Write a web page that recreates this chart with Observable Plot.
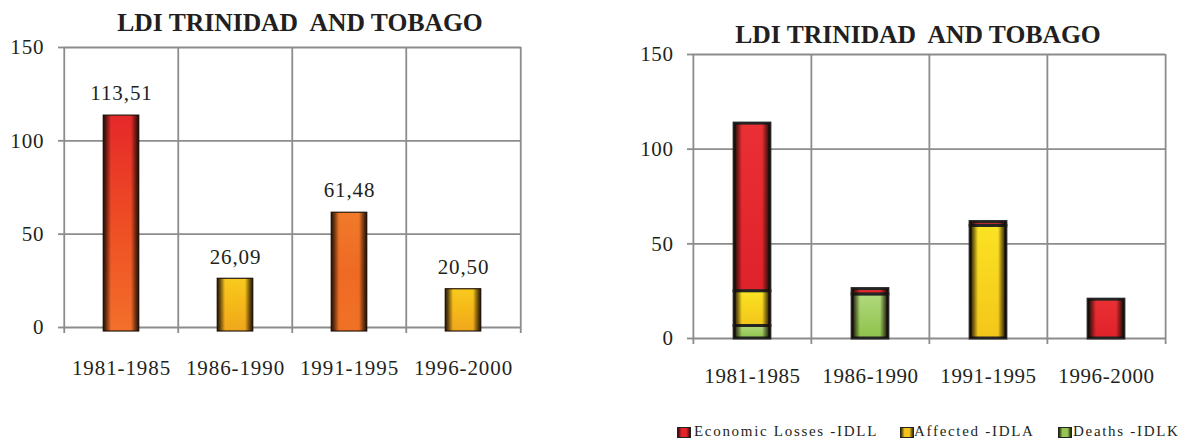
<!DOCTYPE html>
<html><head><meta charset="utf-8">
<script src="https://cdn.jsdelivr.net/npm/d3@7"></script>
<script src="https://cdn.jsdelivr.net/npm/@observablehq/plot@0.6"></script>
<style>
body{margin:0;background:#fff;}
#wrap{position:relative;width:1190px;height:442px;overflow:hidden;background:#fff;font-family:"Liberation Serif","Times New Roman",serif;color:#231f20;}
.title{position:absolute;width:600px;text-align:center;font-weight:bold;font-size:25.6px;line-height:25.6px;white-space:pre;color:#231f20;}
.chart{position:absolute;top:0;}
.leg{position:absolute;top:424px;font-size:15px;line-height:15px;letter-spacing:1.7px;white-space:nowrap;color:#231f20;}
.sw{position:absolute;top:3px;width:12px;height:9px;border:1px solid #222;}
</style>
</head><body>
<div id="wrap">
<svg width="0" height="0" style="position:absolute">
<defs>
<linearGradient id="gRedOrange" x1="0" y1="0" x2="0" y2="1"><stop offset="0" stop-color="#e5282a"/><stop offset="0.5" stop-color="#ee4d24"/><stop offset="1" stop-color="#f3702a"/></linearGradient>
<linearGradient id="gOrange" x1="0" y1="0" x2="0" y2="1"><stop offset="0" stop-color="#f07a2a"/><stop offset="0.5" stop-color="#ee6a23"/><stop offset="1" stop-color="#f07225"/></linearGradient>
<linearGradient id="gGold" x1="0" y1="0" x2="0" y2="1"><stop offset="0" stop-color="#f9ca1e"/><stop offset="0.5" stop-color="#f5b819"/><stop offset="1" stop-color="#efa71c"/></linearGradient>
<linearGradient id="gRed" x1="0" y1="0" x2="0" y2="1"><stop offset="0" stop-color="#ea3034"/><stop offset="1" stop-color="#e0222a"/></linearGradient>
<linearGradient id="gYellow" x1="0" y1="0" x2="0" y2="1"><stop offset="0" stop-color="#fbe223"/><stop offset="1" stop-color="#f3c61a"/></linearGradient>
<linearGradient id="gGreen" x1="0" y1="0" x2="0" y2="1"><stop offset="0" stop-color="#b2d97c"/><stop offset="1" stop-color="#8dc24b"/></linearGradient>
<linearGradient id="gEdge" x1="0" y1="0" x2="1" y2="0">
<stop offset="0" stop-color="#140a04" stop-opacity="0.95"/><stop offset="0.1" stop-color="#140a04" stop-opacity="0.55"/><stop offset="0.22" stop-color="#140a04" stop-opacity="0"/>
<stop offset="0.78" stop-color="#140a04" stop-opacity="0"/><stop offset="0.9" stop-color="#140a04" stop-opacity="0.55"/><stop offset="1" stop-color="#140a04" stop-opacity="0.95"/>
</linearGradient>
</defs></svg>
<div class="title" style="left:0px;top:10.3px;">LDI TRINIDAD  AND TOBAGO</div>
<div class="title" style="left:618px;top:21.9px;">LDI TRINIDAD  AND TOBAGO</div>
<div id="c1" class="chart" style="left:0px;"></div>
<div id="c2" class="chart" style="left:590px;"></div>
<div class="leg" style="left:677px;"><span class="sw" style="left:0;background:linear-gradient(90deg,#3a0a0a,#e3232a 30%,#e3232a 70%,#3a0a0a);"></span><span style="margin-left:17px">Economic Losses -IDLL</span></div>
<div class="leg" style="left:900px;"><span class="sw" style="left:0;background:linear-gradient(90deg,#3a2a05,#f4c41c 30%,#f4c41c 70%,#3a2a05);"></span><span style="margin-left:14px">Affected -IDLA</span></div>
<div class="leg" style="left:1058px;"><span class="sw" style="left:0;background:linear-gradient(90deg,#1f2a0a,#95c653 30%,#95c653 70%,#1f2a0a);"></span><span style="margin-left:15px">Deaths -IDLK</span></div>
</div>
<script>
// ---- data ----
const periods = ["1981-1985", "1986-1990", "1991-1995", "1996-2000"];
const ldiTotal = [113.51, 26.09, 61.48, 20.50];
const yTicks = [0, 50, 100, 150];
const seriesNames = ["Deaths -IDLK", "Affected -IDLA", "Economic Losses -IDLL"];
const deaths = [6.6, 23.3, 0, 0];
const affected = [18.4, 0, 59.5, 0];
const economic = [88.5, 2.8, 2.0, 20.5];

// ---- styles ----
const leftFill = {"1981-1985": "gRedOrange", "1986-1990": "gGold", "1991-1995": "gOrange", "1996-2000": "gGold"};
const seriesFill = ["url(#gGreen)", "url(#gYellow)", "url(#gRed)"];
const FONT = "Liberation Serif, Times New Roman, serif";
const GRID = "#8c8c8c";

const leftRows = periods.map((p, i) => ({period: p, value: ldiTotal[i]}));
const seriesValues = [deaths, affected, economic];
const rightRows = [];
seriesNames.forEach((s, k) => periods.forEach((p, i) => {
  if (seriesValues[k][i] > 0) rightRows.push({period: p, series: s, value: seriesValues[k][i]});
}));

function frameMarks(step, yMax) {
  return [
    Plot.gridY(yTicks, {stroke: GRID, strokeOpacity: 1, strokeWidth: 1.8}),
    Plot.axisY(yTicks, {tickSize: 5, tickFormat: () => "", stroke: GRID, strokeWidth: 1.8, label: null}),
    Plot.ruleX(periods, {x: d => d, y1: yMax, y2: 0, dx: -step / 2, insetBottom: -6, stroke: GRID, strokeWidth: 1.8}),
    Plot.ruleX(periods.slice(-1), {x: d => d, y1: yMax, y2: 0, dx: step / 2, insetBottom: -6, stroke: GRID, strokeWidth: 1.8})
  ];
}

// ---- left chart ----
{
  const W = 560, H = 400, ml = 63, mr = 39, mt = 47, mb = 73;
  const step = (W - ml - mr) / periods.length;
  const inset = (step - 36) / 2;
  const groups = [...new Set(Object.values(leftFill))];
  const plot = Plot.plot({
    width: W, height: H, marginLeft: ml, marginRight: mr, marginTop: mt, marginBottom: mb,
    x: {domain: periods, padding: 0, axis: null},
    y: {domain: [0, 150], axis: null},
    style: {fontFamily: FONT, fontSize: "21px", letterSpacing: "0.9px", color: "#231f20", background: "transparent", overflow: "visible"},
    marks: [
      ...frameMarks(step, 150),
      ...groups.map(g => Plot.barY(leftRows.filter(r => leftFill[r.period] === g),
        {x: "period", y: "value", fill: `url(#${g})`, insetLeft: inset, insetRight: inset, insetBottom: -4, stroke: "#2a1a10", strokeWidth: 1.2})),
      Plot.barY(leftRows, {x: "period", y: "value", fill: "url(#gEdge)", insetLeft: inset, insetRight: inset, insetBottom: -4}),
      Plot.text(leftRows, {x: "period", y: "value", text: d => d.value.toFixed(2).replace(".", ","), dy: -22, fontSize: 21, fill: "#231f20"}),
      Plot.axisY(yTicks, {tickSize: 0, tickPadding: 19, fontSize: 21, fill: "#231f20", label: null}),
      Plot.axisX({tickSize: 0, tickPadding: 33, fontSize: 21, fill: "#231f20", label: null})
    ]
  });
  document.getElementById("c1").append(plot);
}

// ---- right chart ----
{
  const W = 600, H = 400, ml = 102, mr = 25, mt = 54, mb = 62;
  const step = (W - ml - mr) / periods.length;
  const inset = (step - 36) / 2;
  const plot = Plot.plot({
    width: W, height: H, marginLeft: ml, marginRight: mr, marginTop: mt, marginBottom: mb,
    x: {domain: periods, padding: 0, axis: null},
    y: {domain: [0, 150], axis: null},
    color: {domain: seriesNames, range: seriesFill},
    style: {fontFamily: FONT, fontSize: "21px", letterSpacing: "0.6px", color: "#231f20", background: "transparent", overflow: "visible"},
    marks: [
      ...frameMarks(step, 150),
      Plot.barY(rightRows, Plot.stackY({x: "period", y: "value", z: "series", fill: "series", insetLeft: inset, insetRight: inset, stroke: "#252525", strokeWidth: 3})),
      Plot.barY(rightRows, Plot.stackY({x: "period", y: "value", z: "series", fill: "url(#gEdge)", insetLeft: inset, insetRight: inset})),
      Plot.axisY(yTicks, {tickSize: 0, tickPadding: 19, fontSize: 21, fill: "#231f20", label: null}),
      Plot.axisX({tickSize: 0, tickPadding: 30, fontSize: 21, fill: "#231f20", label: null})
    ]
  });
  document.getElementById("c2").append(plot);
}
</script>
</body></html>
